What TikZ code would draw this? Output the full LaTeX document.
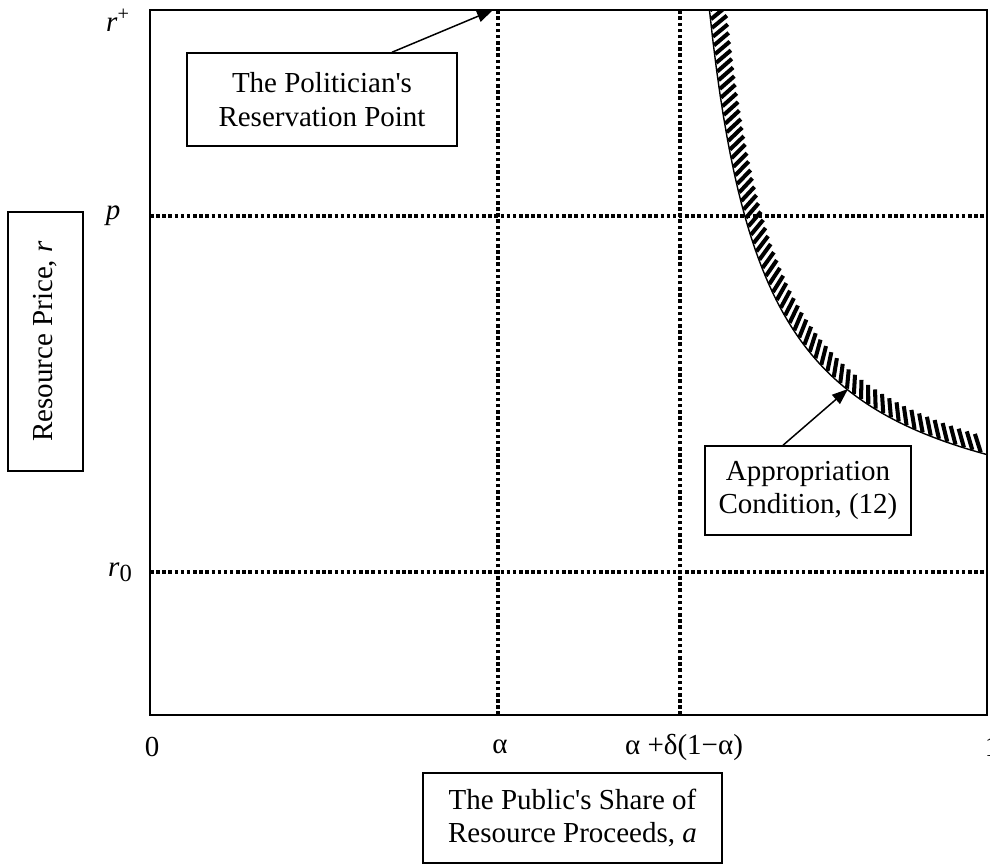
\documentclass[tikz,border=0pt]{standalone}
\usepackage{fontspec}
\setmainfont{Liberation Serif}[Ligatures=TeXOff]
\usetikzlibrary{arrows.meta,decorations.markings}

\tikzset{
  dotline/.style={line width=2pt, dash pattern=on 2pt off 1.5pt},
  labelbox/.style={draw, line width=0.85pt, align=center, inner sep=0pt},
  hatching/.style={postaction={decorate}, decoration={markings,
      mark=between positions 0 and 1 step 5pt with {\draw[line width=2.3pt] (0,0.3pt) -- (-6pt,9.5pt);}}},
  >={Triangle[length=0.32cm,width=0.24cm]}
}

\begin{document}
\begin{tikzpicture}[font=\fontsize{16.5}{19}\selectfont]
	\useasboundingbox (0,0) rectangle (19.8,17.34);
	% frame and guides
	\draw[line width=1.1pt] (3,3.04) rectangle (19.74,17.14);
	\draw[dotline] (9.96,3.04) -- (9.96,17.14);
	\draw[dotline] (13.6,3.04) -- (13.6,17.14);
	\draw[dotline] (3,13.02) -- (19.74,13.02);
	\draw[dotline] (3,5.9) -- (19.74,5.9);
	% appropriation condition
	\begin{scope}
		\clip (3,3.04) rectangle (19.74,17.14);
		\draw[line width=0.8pt, hatching] plot[domain=14.19:19.74, samples=80] (\x,{6.44+12.08/(\x-13.06)});
	\end{scope}
	\coordinate (resv) at (9.86,17.14);
	\coordinate (cond) at (16.96,9.56);
	% axis values
	\node (rplus) at (2.36,16.94) {\textit{r}\textsuperscript{+}};
	\node (pval) at (2.26,13.02) {\textit{p}};
	\node (rzero) at (2.4,5.9) {\textit{r}\raisebox{-0.35ex}{\fontsize{14}{14}\selectfont 0}};
	\node (azero) at (3.04,2.4) {0};
	\node (aalpha) at (10,2.4) {α};
	\node (adelta) at (13.68,2.4) {α +δ(1−α)};
	\node (aone) at (19.84,2.4) {1};
	% boxes
	\node[labelbox, minimum width=5.4cm, minimum height=1.86cm] (polbox) at (6.44,15.35) {The Politician's\\Reservation Point};
	\node[labelbox, minimum width=4.12cm, minimum height=1.78cm] (appbox) at (16.16,7.53) {Appropriation\\Condition, (12)};
	\node[labelbox, minimum width=5.98cm, minimum height=1.8cm] (sharebox) at (11.45,0.98) {The Public's Share of\\Resource Proceeds, \textit{a}};
	\node[labelbox, rotate=90, minimum width=5.18cm, minimum height=1.5cm] (pricebox) at (0.91,10.51) {Resource Price, \textit{r}};
	\draw[->, line width=0.85pt] ([xshift=1.4cm]polbox.north) -- (resv);
	\draw[->, line width=0.85pt] ([xshift=-0.5cm]appbox.north) -- (cond);
\end{tikzpicture}
\end{document}
